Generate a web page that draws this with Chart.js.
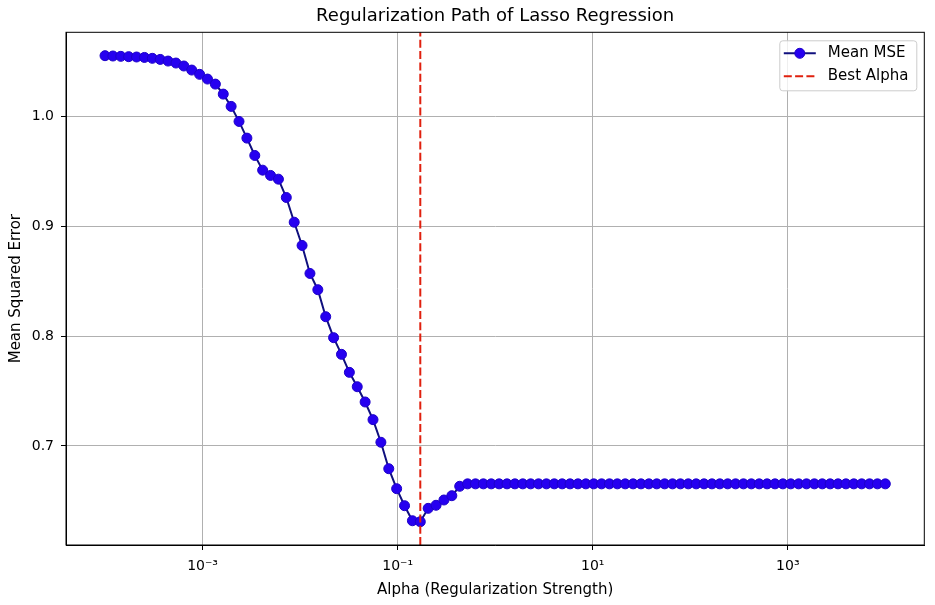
<!DOCTYPE html>
<html>
<head>
<meta charset="utf-8">
<script src="https://cdn.jsdelivr.net/npm/chart.js@4.4.1/dist/chart.umd.min.js"></script>
<style>
  html, body { margin: 0; padding: 0; background: #fff; }
  #wrap { width: 935px; height: 605px; position: relative; }
</style>
</head>
<body>
<div id="wrap"><canvas id="lassoChart"></canvas></div>
<script>
// Alpha grid, 1e-4 .. 1e4 (100 values)
const alphas = [
  1.000e-4, 1.2045e-4, 1.4508e-4, 1.7475e-4, 2.1049e-4, 2.5354e-4, 3.0539e-4, 3.6784e-4, 4.4306e-4, 5.3367e-4,
  6.4281e-4, 7.7426e-4, 9.3260e-4, 1.1233e-3, 1.3530e-3, 1.6298e-3, 1.9630e-3, 2.3645e-3, 2.8480e-3, 3.4305e-3,
  4.1320e-3, 4.9770e-3, 5.9948e-3, 7.2208e-3, 8.6975e-3, 1.0476e-2, 1.2619e-2, 1.5199e-2, 1.8307e-2, 2.2051e-2,
  2.6561e-2, 3.1993e-2, 3.8535e-2, 4.6416e-2, 5.5908e-2, 6.7342e-2, 8.1113e-2, 9.7701e-2, 0.11768, 0.14175,
  0.17074, 0.20565, 0.24771, 0.29836, 0.35938, 0.43288, 0.52140, 0.62803, 0.75646, 0.91116,
  1.0975, 1.3219, 1.5923, 1.9179, 2.3101, 2.7826, 3.3516, 4.0370, 4.8626, 5.8570,
  7.0548, 8.4975, 10.235, 12.328, 14.850, 17.886, 21.544, 25.950, 31.257, 37.649,
  45.349, 54.623, 65.793, 79.248, 95.455, 114.98, 138.49, 166.81, 200.92, 242.01,
  291.51, 351.12, 422.92, 509.41, 613.59, 739.07, 890.22, 1072.3, 1291.5, 1555.7,
  1873.8, 2257.0, 2718.6, 3274.5, 3944.2, 4750.8, 5722.4, 6892.6, 8302.2, 10000
];

// Mean cross-validated MSE for each alpha
const meanMse = [
  1.0556, 1.0553, 1.0550, 1.0547, 1.0544, 1.0540, 1.0532, 1.0522, 1.0507, 1.0489,
  1.0462, 1.0425, 1.0386, 1.0343, 1.0297, 1.0206, 1.0094, 0.9957, 0.9805, 0.9647,
  0.9513, 0.9465, 0.9431, 0.9264, 0.9039, 0.8827, 0.8572, 0.8424, 0.8178, 0.7987,
  0.7835, 0.7671, 0.7540, 0.7401, 0.7240, 0.7034, 0.6793, 0.6611, 0.6456, 0.6319,
  0.6310, 0.6432, 0.6460, 0.6508, 0.6547, 0.6633, 0.6655, 0.6655, 0.6655, 0.6655,
  0.6655, 0.6655, 0.6655, 0.6655, 0.6655, 0.6655, 0.6655, 0.6655, 0.6655, 0.6655,
  0.6655, 0.6655, 0.6655, 0.6655, 0.6655, 0.6655, 0.6655, 0.6655, 0.6655, 0.6655,
  0.6655, 0.6655, 0.6655, 0.6655, 0.6655, 0.6655, 0.6655, 0.6655, 0.6655, 0.6655,
  0.6655, 0.6655, 0.6655, 0.6655, 0.6655, 0.6655, 0.6655, 0.6655, 0.6655, 0.6655,
  0.6655, 0.6655, 0.6655, 0.6655, 0.6655, 0.6655, 0.6655, 0.6655, 0.6655, 0.6655
];

const bestAlpha = 0.17074;
const seriesLabels = ['Mean MSE', 'Best Alpha'];
const xTicks = [1e-3, 1e-1, 1e1, 1e3];
const xTickLabels = ['10⁻³', '10⁻¹', '10¹', '10³'];
const yTicks = [0.7, 0.8, 0.9, 1.0];

// axis limits (matplotlib-style 5% margins)
const X_MIN = 3.98e-5, X_MAX = 2.51e4;
const Y_MIN = 0.6098, Y_MAX = 1.0769;
const FONT = "'DejaVu Sans', sans-serif";

// frame, title and legend, drawn like matplotlib does
const decorPlugin = {
  id: 'decor',
  afterDraw(chart) {
    const { ctx, chartArea: a } = chart;
    const ds = chart.data.datasets;
    ctx.save();

    ctx.strokeStyle = '#000';
    ctx.lineWidth = 1;
    ctx.strokeRect(a.left, a.top, a.right - a.left, a.bottom - a.top);

    ctx.fillStyle = '#000';
    ctx.font = '18px ' + FONT;
    ctx.textAlign = 'center';
    ctx.textBaseline = 'middle';
    ctx.fillText('Regularization Path of Lasso Regression', (a.left + a.right) / 2, 16);

    // legend box
    const bw = 137, bh = 50;
    const bx = a.right - 7.5 - bw, by = a.top + 8.5;
    ctx.beginPath();
    ctx.roundRect(bx, by, bw, bh, 3);
    ctx.fillStyle = 'rgba(255,255,255,0.8)';
    ctx.fill();
    ctx.strokeStyle = '#cccccc';
    ctx.lineWidth = 1;
    ctx.stroke();

    const rows = [by + 12.5, by + 35.5];
    ds.forEach((d, i) => {
      const y = rows[i];
      ctx.beginPath();
      ctx.setLineDash(d.borderDash || []);
      ctx.strokeStyle = d.borderColor;
      ctx.lineWidth = d.borderWidth;
      ctx.moveTo(bx + 4, y);
      ctx.lineTo(bx + 36, y);
      ctx.stroke();
      ctx.setLineDash([]);
      if (d.pointRadius > 0) {
        ctx.beginPath();
        ctx.arc(bx + 20, y, d.pointRadius, 0, Math.PI * 2);
        ctx.fillStyle = d.pointBackgroundColor;
        ctx.fill();
        ctx.lineWidth = d.pointBorderWidth;
        ctx.strokeStyle = d.pointBorderColor;
        ctx.stroke();
      }
      ctx.fillStyle = '#000';
      ctx.font = '15px ' + FONT;
      ctx.textAlign = 'left';
      ctx.textBaseline = 'middle';
      ctx.fillText(d.label, bx + 48, y);
    });

    ctx.restore();
  }
};

const tickFont = { family: FONT, size: 14 };
const labelFont = { family: FONT, size: 15 };

new Chart(document.getElementById('lassoChart'), {
  type: 'line',
  data: {
    datasets: [
      {
        label: seriesLabels[0],
        data: alphas.map((a, i) => ({ x: a, y: meanMse[i] })),
        borderColor: '#10107e',
        borderWidth: 2,
        pointRadius: 5,
        pointBackgroundColor: '#2600f0',
        pointBorderColor: '#1d00c8',
        pointBorderWidth: 1,
        tension: 0,
        order: 2
      },
      {
        label: seriesLabels[1],
        data: [{ x: bestAlpha, y: Y_MIN }, { x: bestAlpha, y: Y_MAX }],
        borderColor: '#e0200e',
        borderWidth: 2,
        borderDash: [8, 3.3],
        pointRadius: 0,
        order: 1
      }
    ]
  },
  options: {
    responsive: true,
    maintainAspectRatio: false,
    animation: false,
    events: [],
    layout: { padding: { top: 32.3, right: 10.7, left: 0, bottom: 0 } },
    plugins: {
      legend: { display: false },
      tooltip: { enabled: false },
      title: { display: false }
    },
    scales: {
      x: {
        type: 'logarithmic',
        min: X_MIN,
        max: X_MAX,
        afterBuildTicks: s => { s.ticks = xTicks.map(v => ({ value: v })); },
        afterFit: s => { s.height = 60; },
        ticks: {
          callback: (v, i) => xTickLabels[i],
          font: tickFont, color: '#000', padding: 8,
          maxRotation: 0, autoSkip: false
        },
        grid: { color: '#b0b0b0', lineWidth: 1, tickLength: 5, tickColor: '#000' },
        border: { color: '#000', width: 1 },
        title: {
          display: true, text: 'Alpha (Regularization Strength)',
          font: labelFont, color: '#000', padding: { top: 0, bottom: 6 }
        }
      },
      y: {
        min: Y_MIN,
        max: Y_MAX,
        afterBuildTicks: s => { s.ticks = yTicks.map(v => ({ value: v })); },
        afterFit: s => { s.width = 66; },
        ticks: {
          callback: v => v.toFixed(1),
          font: tickFont, color: '#000', padding: 7
        },
        grid: { color: '#b0b0b0', lineWidth: 1, tickLength: 5, tickColor: '#000' },
        border: { color: '#000', width: 1 },
        title: {
          display: true, text: 'Mean Squared Error',
          font: labelFont, color: '#000', padding: { top: 7, bottom: 0 }
        }
      }
    }
  },
  plugins: [decorPlugin]
});
</script>
</body>
</html>
